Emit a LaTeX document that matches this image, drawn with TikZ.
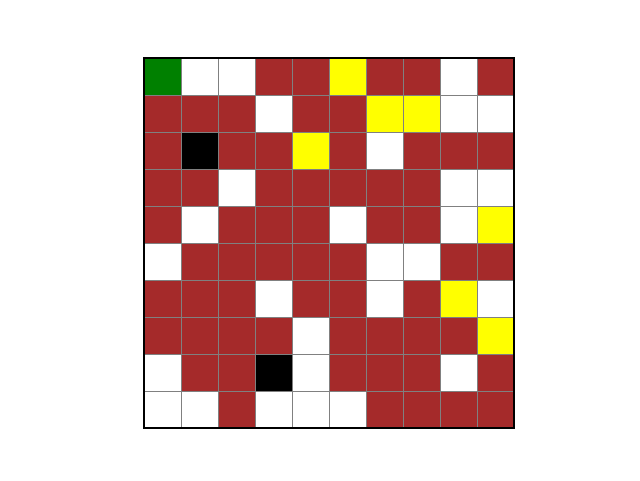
\documentclass[tikz,border=0pt]{standalone}
\usepackage{tikz}

% cell colours
\definecolor{cG}{HTML}{008000}
\definecolor{cW}{HTML}{FFFFFF}
\definecolor{cB}{HTML}{A52A2A}
\definecolor{cK}{HTML}{000000}
\definecolor{cY}{HTML}{FFFF00}

\begin{document}
\begin{tikzpicture}[
  x=0.925cm,y=-0.925cm,
  cell/.style={draw=gray,line width=0.6pt},
  frame/.style={draw=black,line width=0.8pt}
]
\useasboundingbox (-3.6cm,1.45cm) rectangle (12.4cm,-10.55cm);
\foreach \row [count=\r from 0] in {
  {G,W,W,B,B,Y,B,B,W,B},
  {B,B,B,W,B,B,Y,Y,W,W},
  {B,K,B,B,Y,B,W,B,B,B},
  {B,B,W,B,B,B,B,B,W,W},
  {B,W,B,B,B,W,B,B,W,Y},
  {W,B,B,B,B,B,W,W,B,B},
  {B,B,B,W,B,B,W,B,Y,W},
  {B,B,B,B,W,B,B,B,B,Y},
  {W,B,B,K,W,B,B,B,W,B},
  {W,W,B,W,W,W,B,B,B,B}}
{
  \foreach \c [count=\k from 0] in \row
    \draw[cell,fill=c\c] (\k,\r) rectangle ++(1,1);
}
\draw[frame] (0,0) rectangle (10,10);
\end{tikzpicture}
\end{document}
